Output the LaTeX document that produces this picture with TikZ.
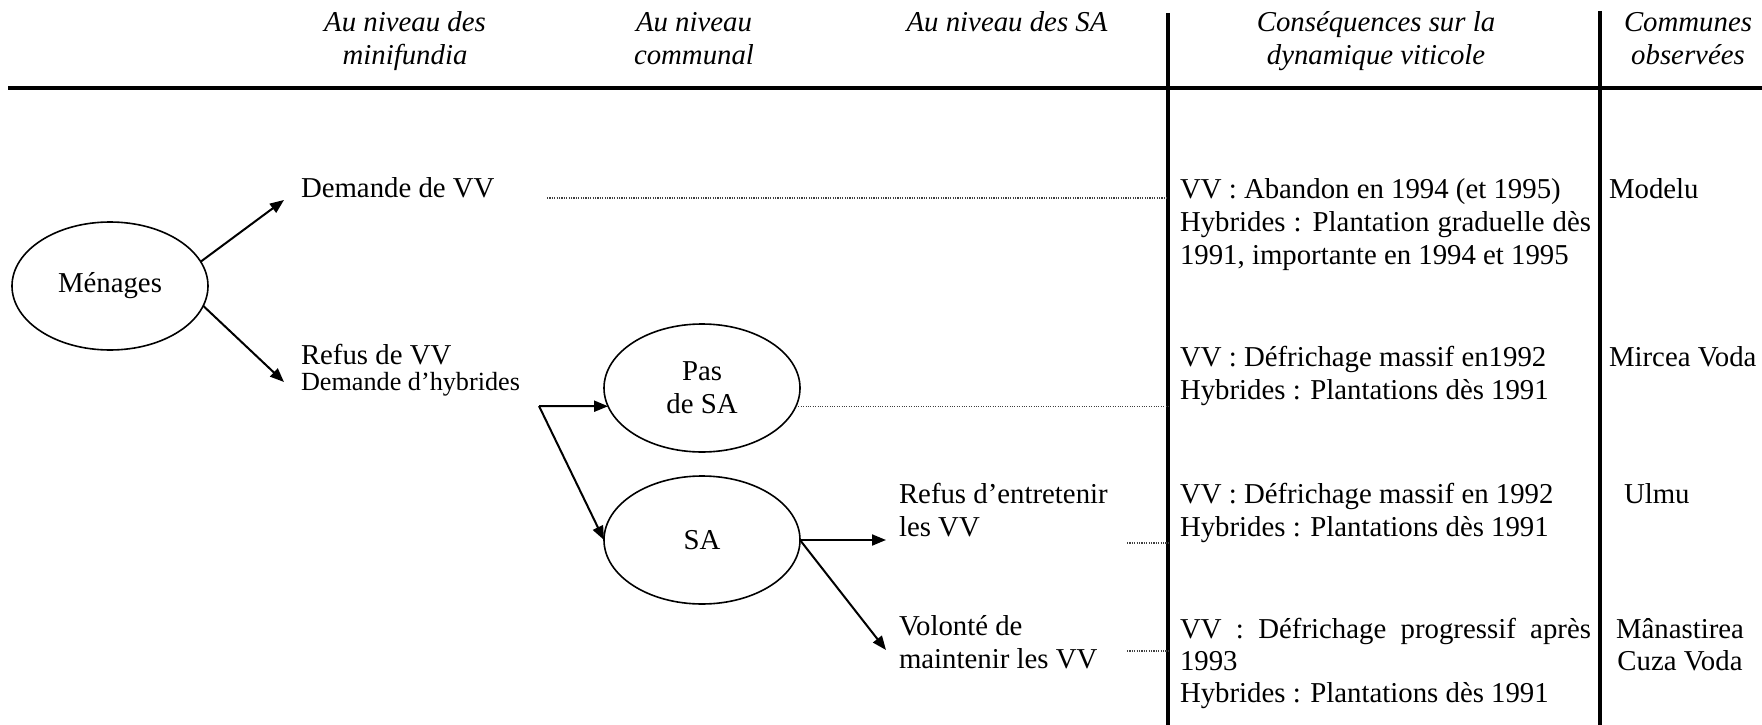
\documentclass[tikz,border=0pt]{standalone}
\usepackage{fontspec}
\setmainfont{Liberation Serif}
\usetikzlibrary{shapes.geometric,arrows.meta}

\begin{document}
\begin{tikzpicture}[x=1pt,y=-1pt,
  every node/.style={inner sep=0pt, outer sep=0pt, font=\fontsize{28.8}{33}\selectfont},
  hdr/.style={anchor=base, font=\fontsize{28.8}{33}\selectfont\itshape},
  txt/.style={anchor=base west},
  ctr/.style={anchor=base},
  bub/.style={draw, ellipse, line width=1.6pt, minimum width=196pt, minimum height=128pt, align=center},
  arr/.style={line width=2pt, -{Triangle[length=14pt,width=11pt]}},
  dots/.style={line width=1.1pt, dash pattern=on 1.1pt off 1.3pt, black!75},
  rule/.style={line width=4pt},
  sep/.style={line width=3.5pt}]

\useasboundingbox (0,0) rectangle (1762,725);

% column headings
\node[hdr] (h1a) at (405,32) {Au niveau des};
\node[hdr] (h1b) at (405,65) {minifundia};
\node[hdr] (h2a) at (694,32) {Au niveau};
\node[hdr] (h2b) at (694,65) {communal};
\node[hdr] (h3)  at (1007,32) {Au niveau des SA};
\node[hdr] (h4a) at (1376,32) {Conséquences sur la};
\node[hdr] (h4b) at (1376,65) {dynamique viticole};
\node[hdr] (h5a) at (1688,32) {Communes};
\node[hdr] (h5b) at (1688,65) {observées};

% table rules
\coordinate (rl) at (8,88);
\coordinate (rr) at (1762,88);
\coordinate (v1top) at (1168,13);
\coordinate (v1bot) at (1168,725);
\coordinate (v2top) at (1600,11);
\coordinate (v2bot) at (1600,725);
\draw[rule] (rl) -- (rr);
\draw[sep] (v1top) -- (v1bot);
\draw[sep] (v2top) -- (v2bot);

% actors
\node[bub] (men) at (110,286) {Ménages};
\node[bub] (pas) at (702,388) {Pas\\de SA};
\node[bub] (sa)  at (702,540) {SA};

% choices
\node[txt] (dvv)  at (301,197) {Demande de VV};
\node[txt] (rvv)  at (301,364) {Refus de VV};
\node[txt, font=\fontsize{26.2}{30}\selectfont] (dhy) at (301,390) {Demande d’hybrides};
\node[txt] (ren1) at (899,503) {Refus d’entretenir};
\node[txt] (ren2) at (899,536) {les VV};
\node[txt] (vol1) at (899,635) {Volonté de};
\node[txt] (vol2) at (899,668) {maintenir les VV};

% consequences
\node[txt] (c1a) at (1180,198) {VV : Abandon en 1994 (et 1995)};
\node[txt] (c1b) at (1180,231) {\makebox[411pt][s]{Hybrides : Plantation graduelle dès}};
\node[txt] (c1c) at (1180,264) {1991, importante en 1994 et 1995};
\node[txt] (c2a) at (1180,366) {VV : Défrichage massif en1992};
\node[txt] (c2b) at (1180,399) {Hybrides : Plantations dès 1991};
\node[txt] (c3a) at (1180,503) {VV : Défrichage massif en 1992};
\node[txt] (c3b) at (1180,536) {Hybrides : Plantations dès 1991};
\node[txt] (c4a) at (1180,638) {\makebox[411pt][s]{VV : Défrichage progressif après}};
\node[txt] (c4b) at (1180,670) {1993};
\node[txt] (c4c) at (1180,702) {Hybrides : Plantations dès 1991};

% communes
\node[txt] (m1) at (1609,198) {Modelu};
\node[txt] (m2) at (1609,366) {Mircea Voda};
\node[txt] (m3) at (1624,503) {Ulmu};
\node[ctr] (m4a) at (1680,638) {Mânastirea};
\node[ctr] (m4b) at (1680,670) {Cuza Voda};

% arrows
\coordinate (t1) at (284,200);
\coordinate (t2) at (284,382);
\coordinate (fork) at (539,406);
\coordinate (t3) at (886,540);
\coordinate (t4) at (886,650);
\draw[arr] (men.15) -- (t1);
\draw[arr] (men.-12) -- (t2);
\draw[arr] (fork) -- (pas.191);
\draw[arr] (fork) -- (sa.west);
\draw[arr] (sa.east) -- (t3);
\draw[arr] (sa.east) -- (t4);

% dotted leaders to the consequences column
\coordinate (d1) at (547,198);
\coordinate (d3) at (1127,543);
\coordinate (d4) at (1127,651);
\draw[dots] (d1) -- (d1 -| v1top);
\draw[dots] (pas.-11) -- (pas.-11 -| v1top);
\draw[dots] (d3) -- (d3 -| v1top);
\draw[dots] (d4) -- (d4 -| v1top);
\end{tikzpicture}
\end{document}
